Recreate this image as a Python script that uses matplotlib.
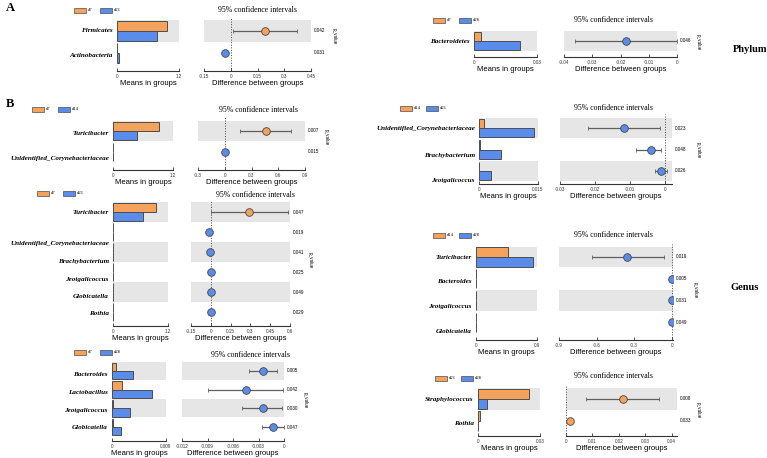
import matplotlib.pyplot as plt
from matplotlib.patches import Rectangle

W, H = 767, 458
ORANGE = '#F5A25D'
BLUE = '#5A8CEB'
EDGE = '#4d4d4d'
BAND = '#E6E6E6'
SERIF = 'Liberation Serif'
SANS = 'Liberation Sans'

# ---- data ----
# A: phylum, d7 vs d21
a1_groups = ['d7', 'd21']
a1_taxa = ['Firmicates', 'Actinobacteria']
a1_g1 = [0.97, 0.0]
a1_g2 = [0.77, 0.04]
a1_diff = [0.19, -0.03]
a1_lo = [0.01, -0.03]
a1_hi = [0.37, -0.03]
a1_p = ['0.042', '0.031']

# A: phylum, d7 vs d28
a2_groups = ['d7', 'd28']
a2_taxa = ['Bacteroidetes']
a2_g1 = [0.0033]
a2_g2 = [0.022]
a2_diff = [-0.018]
a2_lo = [-0.036]
a2_hi = [0.0]
a2_p = ['0.046']

# B: genus, d7 vs d14
b1_groups = ['d7', 'd14']
b1_taxa = ['Turicibacter', 'Unidentified_Corynebacteriaceae']
b1_g1 = [0.92, 0.002]
b1_g2 = [0.48, 0.0]
b1_diff = [0.46, 0.0]
b1_lo = [0.17, -0.01]
b1_hi = [0.74, 0.01]
b1_p = ['0.007', '0.015']

# B: genus, d7 vs d21
b2_groups = ['d7', 'd21']
b2_taxa = ['Turicibacter', 'Unidentified_Corynebacteriaceae', 'Brachybacterium',
           'Jeotgalicoccus', 'Globicatella', 'Rothia']
b2_g1 = [0.94, 0.0, 0.0, 0.0, 0.0, 0.0]
b2_g2 = [0.65, 0.01, 0.003, 0.002, 0.002, 0.002]
b2_diff = [0.29, -0.01, -0.003, -0.002, -0.002, -0.002]
b2_lo = [0.0, -0.015, -0.006, -0.005, -0.005, -0.004]
b2_hi = [0.585, -0.005, 0.0, 0.0, 0.0, 0.0]
b2_p = ['0.047', '0.019', '0.041', '0.025', '0.049', '0.029']

# B: genus, d7 vs d28
b3_groups = ['d7', 'd28']
b3_taxa = ['Bacteroides', 'Lactobacillus', 'Jeotgalicoccus', 'Globicatella']
b3_g1 = [0.00075, 0.0017, 0.0001, 0.0001]
b3_g2 = [0.0035, 0.0067, 0.003, 0.0015]
b3_diff = [-0.0025, -0.0045, -0.0025, -0.0013]
b3_lo = [-0.0041, -0.009, -0.0049, -0.0026]
b3_hi = [-0.0008, -0.0001, -0.0002, 0.0]
b3_p = ['0.005', '0.042', '0.030', '0.047']

# B: genus, d14 vs d21
b4_groups = ['d14', 'd21']
b4_taxa = ['Unidentified_Corynebacteriaceae', 'Brachybacterium', 'Jeotgalicoccus']
b4_g1 = [0.0013, 0.0002, 0.0001]
b4_g2 = [0.014, 0.0056, 0.003]
b4_diff = [-0.0117, -0.004, -0.0011]
b4_lo = [-0.022, -0.0083, -0.0029]
b4_hi = [-0.0014, -0.0011, 0.0006]
b4_p = ['0.023', '0.048', '0.026']

# B: genus, d14 vs d28
b5_groups = ['d14', 'd28']
b5_taxa = ['Turicibacter', 'Bacteroides', 'Jeotgalicoccus', 'Globicatella']
b5_g1 = [0.47, 0.0, 0.0, 0.0]
b5_g2 = [0.84, 0.001, 0.001, 0.001]
b5_diff = [-0.36, -0.001, -0.001, -0.001]
b5_lo = [-0.64, -0.004, -0.004, -0.004]
b5_hi = [-0.06, 0.001, 0.001, 0.001]
b5_p = ['0.019', '0.005', '0.031', '0.049']

# B: genus, d21 vs d28
b6_groups = ['d21', 'd28']
b6_taxa = ['Straphylococcus', 'Rothia']
b6_g1 = [0.0247, 0.001]
b6_g2 = [0.0045, 0.0001]
b6_diff = [0.0215, 0.0015]
b6_lo = [0.0075, 0.0015]
b6_hi = [0.035, 0.0015]
b6_p = ['0.008', '0.033']

# ---- layout (pixels) ----
panels = [
    dict(groups=a1_groups, taxa=a1_taxa, g1=a1_g1, g2=a1_g2, diff=a1_diff, lo=a1_lo, hi=a1_hi, p=a1_p,
         top=18, bottom=71, row0=31, step=22, label_pos=[-0.05, 1.1],
         bar_x=(117, 179), bar_lim=(0, 1.2),
         ci_x=(204, 311), ci_lim=(-0.15, 0.45), ci_ticks=[-0.15, 0, 0.15, 0.3, 0.45],
         legend=(74, 10), title=(257, 10), pv=(334, 36)),
    dict(groups=a2_groups, taxa=a2_taxa, g1=a2_g1, g2=a2_g2, diff=a2_diff, lo=a2_lo, hi=a2_hi, p=a2_p,
         top=28, bottom=57, row0=41, step=21, label_pos=[0],
         bar_x=(474, 537), bar_lim=(0, 0.03),
         ci_x=(564, 677), ci_lim=(-0.04, 0.0), ci_ticks=[-0.04, -0.03, -0.02, -0.01, 0],
         legend=(433, 20), title=(613, 20), pv=(698, 42)),
    dict(groups=b1_groups, taxa=b1_taxa, g1=b1_g1, g2=b1_g2, diff=b1_diff, lo=b1_lo, hi=b1_hi, p=b1_p,
         top=116, bottom=170, row0=131, step=21, label_pos=[0.1, 1.3],
         bar_x=(113, 173), bar_lim=(0, 1.2),
         ci_x=(198, 305), ci_lim=(-0.3, 0.9), ci_ticks=[-0.3, 0, 0.3, 0.6, 0.9],
         legend=(32, 109), title=(258, 110), pv=(326, 137)),
    dict(groups=b2_groups, taxa=b2_taxa, g1=b2_g1, g2=b2_g2, diff=b2_diff, lo=b2_lo, hi=b2_hi, p=b2_p,
         top=200, bottom=326, row0=212, step=20, label_pos=[0, 1.55, 2.45, 3.35, 4.2, 5.05],
         bar_x=(113, 168), bar_lim=(0, 1.2),
         ci_x=(191, 290), ci_lim=(-0.15, 0.6), ci_ticks=[-0.15, 0, 0.15, 0.3, 0.45, 0.6],
         legend=(37, 193), title=(255, 195), pv=(310, 260)),
    dict(groups=b3_groups, taxa=b3_taxa, g1=b3_g1, g2=b3_g2, diff=b3_diff, lo=b3_lo, hi=b3_hi, p=b3_p,
         top=358, bottom=441, row0=371, step=18.7, label_pos=[0.15, 1.1, 2.1, 3.0],
         bar_x=(112, 166), bar_lim=(0, 0.009),
         ci_x=(182, 284), ci_lim=(-0.012, 0.0), ci_ticks=[-0.012, -0.009, -0.006, -0.003, 0],
         legend=(74, 352), title=(250, 355), pv=(305, 400)),
    dict(groups=b4_groups, taxa=b4_taxa, g1=b4_g1, g2=b4_g2, diff=b4_diff, lo=b4_lo, hi=b4_hi, p=b4_p,
         top=114, bottom=184, row0=128, step=21.5, label_pos=[0, 1.25, 2.4],
         bar_x=(479, 538), bar_lim=(0, 0.015),
         ci_x=(560, 672), ci_lim=(-0.03, 0.002), ci_ticks=[-0.03, -0.02, -0.01, 0],
         legend=(400, 108), title=(613, 108), pv=(698, 150)),
    dict(groups=b5_groups, taxa=b5_taxa, g1=b5_g1, g2=b5_g2, diff=b5_diff, lo=b5_lo, hi=b5_hi, p=b5_p,
         top=244, bottom=340, row0=257, step=21.7, label_pos=[0, 1.1, 2.25, 3.4],
         bar_x=(476, 537), bar_lim=(0, 0.9),
         ci_x=(559, 673), ci_lim=(-0.9, 0.01), ci_ticks=[-0.9, -0.6, -0.3, 0],
         legend=(433, 235), title=(613, 235), pv=(695, 290)),
    dict(groups=b6_groups, taxa=b6_taxa, g1=b6_g1, g2=b6_g2, diff=b6_diff, lo=b6_lo, hi=b6_hi, p=b6_p,
         top=385, bottom=436, row0=399, step=22, label_pos=[0, 1.1],
         bar_x=(478, 540), bar_lim=(0, 0.03),
         ci_x=(566, 677), ci_lim=(0, 0.042), ci_ticks=[0, 0.01, 0.02, 0.03, 0.04],
         legend=(435, 378), title=(613, 376), pv=(698, 410)),
]

fig = plt.figure(figsize=(W / 100, H / 100), dpi=100)


def px_axes(x0, x1, top, bottom):
    return fig.add_axes([x0 / W, 1 - bottom / H, (x1 - x0) / W, (bottom - top) / H])


def base_axes(xr, lim, ticks, pn):
    ax = px_axes(xr[0], xr[1], pn['top'], pn['bottom'])
    n = len(pn['taxa'])
    ax.set_xlim(*lim)
    ax.set_ylim((pn['bottom'] - pn['row0']) / pn['step'], (pn['top'] - pn['row0']) / pn['step'])
    for s in ['top', 'right', 'left']:
        ax.spines[s].set_visible(False)
    ax.spines['bottom'].set_linewidth(0.8)
    ax.spines['bottom'].set_color('#333333')
    ax.set_xticks(ticks)
    ax.set_xticklabels(['%g' % t for t in ticks], fontsize=3.3, family=SANS)
    ax.tick_params(axis='x', direction='in', length=2, width=0.6, pad=2, colors='#333333')
    ax.set_yticks([])
    ax.patch.set_alpha(0)
    for i in range(0, n, 2):
        ax.axhspan(i - 0.48, i + 0.48, color=BAND, lw=0, zorder=0)
    return ax


for pn in panels:
    n = len(pn['taxa'])
    rows = list(range(n))

    # means in groups
    ax = base_axes(pn['bar_x'], pn['bar_lim'], list(pn['bar_lim']), pn)
    ax.barh([r - 0.22 for r in rows], pn['g1'], height=0.44, color=ORANGE,
            edgecolor=EDGE, linewidth=0.7, zorder=2)
    ax.barh([r + 0.22 for r in rows], pn['g2'], height=0.44, color=BLUE,
            edgecolor=EDGE, linewidth=0.7, zorder=2)
    ax.set_yticks(pn['label_pos'])
    ax.set_yticklabels(pn['taxa'], fontsize=5.1, family=SERIF, fontweight='bold', fontstyle='italic')
    ax.tick_params(axis='y', length=0, pad=3)
    ax.set_xlabel('Means in groups', fontsize=5.5, family=SANS, labelpad=1)

    # confidence intervals
    cx = base_axes(pn['ci_x'], pn['ci_lim'], pn['ci_ticks'], pn)
    cx.axvline(0, color='#444444', ls=':', lw=0.7, zorder=1)
    for i in rows:
        d = pn['diff'][i]
        cx.errorbar(d, i, xerr=[[d - pn['lo'][i]], [pn['hi'][i] - d]], fmt='o',
                    ms=5.5, mfc=ORANGE if d > 0 else BLUE, mec='#444444', mew=0.6,
                    ecolor='#5f5f5f', elinewidth=0.9, capsize=1.5, capthick=0.6, zorder=3)
        cx.annotate(pn['p'][i], xy=(1, i), xycoords=('axes fraction', 'data'),
                    xytext=(2, 0), textcoords='offset points', fontsize=3.3,
                    family=SANS, va='center', ha='left')
    cx.set_xlabel('Difference between groups', fontsize=5.5, family=SANS, labelpad=1)

    fig.text(pn['title'][0] / W, 1 - pn['title'][1] / H, '95% confidence intervals',
             ha='center', va='center', fontsize=5.6, family=SERIF)
    fig.text(pn['pv'][0] / W, 1 - pn['pv'][1] / H, 'p_value', rotation=-90,
             ha='center', va='center', fontsize=3.3, family=SANS)

    # legend
    lx, ly = pn['legend']
    for k, (g, c) in enumerate(zip(pn['groups'], [ORANGE, BLUE])):
        x = lx + 26 * k
        fig.add_artist(Rectangle((x / W, 1 - (ly + 2.5) / H), 12 / W, 5 / H,
                                 transform=fig.transFigure, facecolor=c,
                                 edgecolor=EDGE, linewidth=0.5))
        fig.text((x + 14) / W, 1 - ly / H, g, ha='left', va='center', fontsize=3.3, family=SERIF)

fig.text(6 / W, 1 - 8 / H, 'A', fontsize=9, fontweight='bold', family=SERIF, va='center')
fig.text(6 / W, 1 - 104 / H, 'B', fontsize=9, fontweight='bold', family=SERIF, va='center')
fig.text(750 / W, 1 - 49 / H, 'Phylum', fontsize=7.5, fontweight='bold', family=SERIF,
         ha='center', va='center')
fig.text(745 / W, 1 - 288 / H, 'Genus', fontsize=7.5, fontweight='bold', family=SERIF,
         ha='center', va='center')

fig.savefig('out.png', dpi=100)
